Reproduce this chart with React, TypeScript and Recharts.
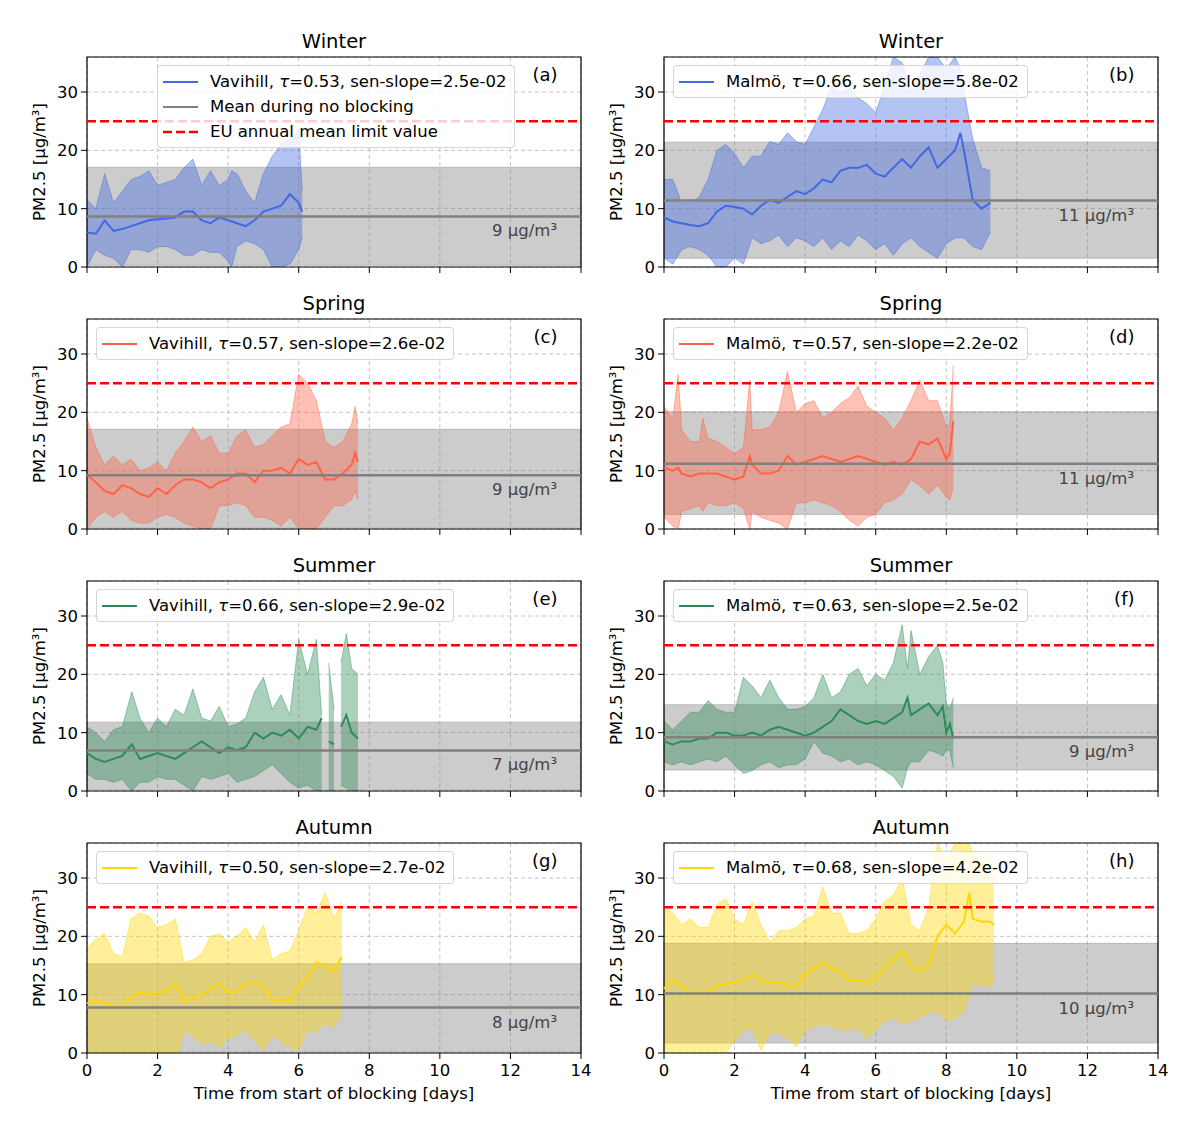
import React from "react";
import {
  Area,
  CartesianGrid,
  ComposedChart,
  Line,
  ReferenceArea,
  ReferenceLine,
  XAxis,
  YAxis,
} from "recharts";

const FONT = '"DejaVu Sans", Verdana, sans-serif';
const TXT = 16.5;

const X_TICKS = [0, 2, 4, 6, 8, 10, 12, 14];
const Y_TICKS = [0, 10, 20, 30];
const EU_LIMIT = 25;

const COLORS: Record<string, string> = {
  Winter: "#4169e1",
  Spring: "#ff6347",
  Summer: "#2e8b57",
  Autumn: "#ffd700",
};

// (a) Vavihill, winter
const T_A = [0, 0.25, 0.5, 0.75, 1, 1.25, 1.5, 1.75, 2, 2.25, 2.5, 2.75, 3, 3.25, 3.5, 3.75, 4, 4.1, 4.25, 4.5, 4.75, 5, 5.25, 5.5, 5.75, 6, 6.1];
const MEAN_A = [5.9, 5.7, 8, 6.2, 6.5, 7, 7.5, 8, 8.2, 8.3, 8.5, 9.5, 9.5, 8, 7.5, 8.5, 8, 7.8, 7.5, 7, 8, 9.5, 10, 10.5, 12.5, 11, 9.5];
const HI_A = [11.5, 10, 16, 11, 13, 15, 15.5, 16.5, 14, 14.5, 15, 17, 18.5, 14, 16.5, 14, 15, 16.5, 16, 13, 11, 16, 19, 21, 22, 23.5, 13];
const LO_A = [0, 3, 2, 1.5, 0, 3, 3, 2.5, 3.5, 3.5, 3, 2, 2, 3, 2.5, 2.5, 1, 0, 3.5, 4.5, 4, 3, 0, 0, 0.5, 3, 5];
const NB_A = [0.3, 17.1, 8.66];

// (b) Malmö, winter
const T_B = [0, 0.25, 0.5, 0.75, 1, 1.25, 1.5, 1.75, 2, 2.25, 2.5, 2.75, 3, 3.25, 3.5, 3.75, 4, 4.25, 4.5, 4.75, 5, 5.25, 5.5, 5.75, 6, 6.25, 6.5, 6.75, 7, 7.25, 7.5, 7.75, 8, 8.25, 8.4, 8.5, 8.75, 9, 9.25];
const MEAN_B = [8.5, 7.8, 7.5, 7.2, 7, 7.5, 9.5, 10.5, 10.3, 10, 9, 10.5, 11.5, 11, 12, 13, 12.5, 13.5, 15, 14.5, 16.5, 17, 17, 17.5, 16, 15.5, 17, 18.5, 17, 19, 20.5, 17, 18.5, 20, 23, 20, 11.5, 10, 11];
const HI_B = [15, 15, 11, 11, 12, 15, 20, 21, 19.5, 17, 19, 19, 21.5, 21, 23, 21.5, 21, 24, 27, 31, 30, 30.5, 29, 28, 26.5, 31, 36, 35, 30, 33, 36, 36, 34, 36, 34, 30, 22, 17, 16.5];
const LO_B = [1.5, 0.5, 3, 3.5, 3, 2, 0, 0, 1.5, 0.5, 5, 4, 4.5, 5.5, 3.5, 5, 4.5, 3.5, 5, 3, 4.5, 3.5, 5.5, 4.5, 3, 4, 2, 4, 5, 3.5, 2.5, 1.5, 4, 5, 5, 5, 3.5, 3, 6];
const NB_B = [1.5, 21.4, 11.4];

// (c) Vavihill, spring
const T_C = [0, 0.25, 0.5, 0.75, 1, 1.25, 1.5, 1.75, 2, 2.25, 2.5, 2.75, 3, 3.25, 3.5, 3.75, 4, 4.25, 4.5, 4.75, 5, 5.25, 5.5, 5.75, 6, 6.25, 6.5, 6.75, 7, 7.25, 7.5, 7.6, 7.68];
const MEAN_C = [9.3, 8, 6.5, 6, 7.5, 7, 6, 5.5, 7, 6, 7.5, 8.5, 8.5, 8, 7, 8, 8.5, 9.5, 9.5, 8, 10, 10, 10.5, 9.5, 12, 11, 11.5, 8.5, 8.5, 9.5, 11, 13, 11.5];
const HI_C = [19, 14, 11, 12.5, 11, 12, 10, 10.5, 11.5, 10, 13, 15, 17.5, 15, 16, 13, 13, 16, 17, 14, 14.5, 16, 17.5, 18, 26.5, 25, 22, 15, 14, 15, 18, 21, 18];
const LO_C = [0, 2, 3, 2, 3, 1.5, 1, 1, 2, 2.5, 2, 1, 0.5, 0, 0, 4, 4, 4.5, 4, 2, 2, 1.5, 0.5, 2, 0, 0, 0, 2, 4, 4, 5, 6.5, 5];
const NB_C = [0.2, 17.1, 9.2];

// (d) Malmö, spring
const T_D = [0, 0.25, 0.4, 0.5, 0.75, 1, 1.1, 1.25, 1.5, 1.75, 2, 2.25, 2.43, 2.5, 2.75, 3, 3.25, 3.5, 3.75, 4, 4.25, 4.5, 4.75, 5, 5.25, 5.5, 5.75, 6, 6.25, 6.5, 6.75, 7, 7.25, 7.5, 7.75, 8, 8.1, 8.2];
const MEAN_D = [10.5, 10, 10.5, 9.5, 9, 9.5, 9.5, 9.5, 9.5, 9, 8.5, 9, 12.5, 11, 9.5, 9.5, 10, 12.5, 11, 11.5, 12, 12.5, 12, 11.5, 12, 12.5, 12, 11.5, 11, 11.5, 11, 12, 15, 14.5, 15.5, 12, 13, 18.5];
const HI_D = [21, 19, 26.5, 17, 15, 15, 19, 15.5, 15, 14, 13, 14, 25.5, 17, 17, 17.5, 20, 27, 20, 21.5, 22, 19, 20, 21.5, 22.5, 24.5, 21, 20, 19, 17, 19, 22, 25.5, 22, 22, 17.5, 18, 28];
const LO_D = [2, 0.5, 0, 3, 3.5, 4, 3, 4.5, 4, 4, 4.5, 3.5, 0, 3, 2, 1.5, 1, 0, 4.5, 4.5, 5, 4.5, 4, 3, 1.5, 0.5, 2, 2.5, 4.5, 5, 6, 8.5, 7.5, 6, 7.5, 5.5, 5, 7];
const NB_D = [2.5, 20.1, 11.2];

// (e) Vavihill, summer (gaps = missing hours)
const T_E = [0, 0.25, 0.5, 0.75, 1, 1.27, 1.5, 1.75, 2, 2.25, 2.5, 2.75, 3, 3.25, 3.5, 3.75, 4, 4.25, 4.5, 4.75, 5, 5.25, 5.5, 5.75, 6, 6.25, 6.5, 6.65, 6.75, 6.85, 7, 7.1, 7.2, 7.35, 7.5, 7.68];
const MEAN_E = [6.5, 5.5, 5, 5.5, 6, 8, 5.5, 6, 6.5, 6, 5.5, 6.5, 7.5, 8.5, 7.5, 6.5, 7.5, 7, 7.5, 10, 9, 10, 9.5, 10.5, 9, 11, 10.5, 12.5, null, 8.5, 8, null, 11, 13, 10, 9];
const HI_E = [11, 10, 8.5, 10.5, 11, 17, 12.5, 10, 12.5, 11, 14, 13, 17.5, 12.5, 12, 14.5, 11, 11.5, 12.5, 17, 19.5, 14, 16.5, 13, 26, 20, 26, 13, null, 22, 14, null, 22, 27, 21, 20];
const LO_E = [3, 2, 2, 1.5, 2, 0, 1.5, 1.5, 2.5, 2, 2, 1, 0, 2.5, 2, 2.5, 3, 1.5, 2, 2.5, 3.5, 4.5, 3, 1.5, 0.5, 1, 0, 0, null, 0, 0, null, 1, 0.5, 0, 0];
const NB_E = [0.2, 11.8, 6.95];

// (f) Malmö, summer
const T_F = [0, 0.25, 0.5, 0.75, 1, 1.25, 1.5, 1.75, 2, 2.25, 2.5, 2.75, 3, 3.25, 3.5, 3.75, 4, 4.25, 4.5, 4.75, 5, 5.25, 5.5, 5.75, 6, 6.25, 6.5, 6.75, 6.9, 7, 7.25, 7.5, 7.75, 7.9, 8, 8.1, 8.2];
const MEAN_F = [8.5, 8, 8.5, 8.5, 9, 9, 10, 10, 9.5, 9.5, 10, 9.5, 10.5, 11, 10.5, 10, 9.5, 10, 11, 12, 14, 13, 12, 11.5, 12, 11.5, 12.5, 13.5, 16, 13, 14, 15, 13, 14.5, 10, 11.5, 9];
const HI_F = [12, 10.5, 12, 13.5, 13.5, 15.5, 14, 13.5, 13.5, 19.5, 18, 16, 19, 16, 14, 14, 14.5, 16, 20, 16, 17, 20, 21, 18, 20, 19, 22, 28.5, 21, 27.5, 20, 23, 25, 22, 15, 14, 16];
const LO_F = [5, 4.5, 5, 4.5, 5, 5.5, 5, 6, 4.5, 3, 3.5, 4.5, 5, 4, 4.5, 4.5, 5.5, 8.5, 6.5, 6, 5, 5.5, 4.5, 5, 4.5, 3.5, 2.5, 0.5, 4, 5, 5, 7, 6.5, 6, 7, 7, 4];
const NB_F = [3.6, 14.8, 9.2];

// (g) Vavihill, autumn
const T_G = [0, 0.25, 0.5, 0.75, 1, 1.25, 1.5, 1.75, 2, 2.25, 2.5, 2.6, 2.75, 3, 3.25, 3.5, 3.75, 4, 4.25, 4.5, 4.75, 5, 5.25, 5.5, 5.75, 6, 6.25, 6.5, 6.75, 7, 7.22];
const MEAN_G = [8.5, 9, 8.5, 8, 8, 9.5, 10.5, 10, 10.5, 10.5, 12, 11, 9, 9.5, 10, 11, 12, 10.5, 10.5, 12, 12, 11.5, 9, 9, 9, 11.5, 13, 15.5, 15, 14, 16.5];
const HI_G = [18, 19.5, 20.5, 17, 16.5, 23, 24, 23.5, 21.5, 22, 23, 20, 15.5, 16, 17, 20, 20.5, 19, 20, 21.5, 19, 22, 16, 17, 17.5, 21, 25, 24, 27.5, 23, 26];
const LO_G = [0, 0, 0, 0, 0, 0, 0, 0, 0, 0, 0, 0, 4, 3, 1.5, 2, 1, 2.5, 3, 4, 2, 0.5, 3, 2, 1, 0.5, 4, 3.5, 5, 4.5, 7];
const NB_G = [0.2, 15.3, 7.8];

// (h) Malmö, autumn
const T_H = [0, 0.25, 0.5, 0.75, 1, 1.25, 1.5, 1.75, 2, 2.25, 2.5, 2.75, 3, 3.25, 3.5, 3.75, 4, 4.25, 4.5, 4.75, 5, 5.25, 5.5, 5.75, 6, 6.25, 6.5, 6.75, 7, 7.25, 7.5, 7.75, 8, 8.25, 8.5, 8.65, 8.75, 9, 9.25, 9.35];
const MEAN_H = [11, 12.5, 11.5, 10, 10.5, 10.5, 11.5, 12, 12, 12.5, 13.5, 12.5, 12, 12, 11.5, 11.5, 13.5, 14.5, 15.5, 14.5, 14, 12.5, 12.5, 12, 13, 14.5, 16, 17.5, 15, 14, 15, 20, 22, 20.5, 22.5, 27.5, 23, 22.5, 22.5, 22];
const HI_H = [25, 24, 22, 23, 21.5, 21.5, 25.5, 26.5, 23, 22, 26, 22, 19, 21, 21, 21.5, 23, 23.5, 28.5, 24, 24, 20.5, 20.5, 21, 23, 26, 27, 30, 22, 21, 25, 36, 33, 36, 36, 36, 34, 33, 34, 29];
const LO_H = [0, 0, 0, 0, 0, 0, 0, 0, 2, 4, 4, 0.5, 3.5, 3.5, 2.5, 1, 4, 4.5, 5, 4.5, 4, 4, 4, 2.5, 4, 5.5, 6, 5, 5.5, 6, 7, 7, 5.5, 6, 7, 10, 12, 11.5, 11.5, 12];
const NB_H = [1.7, 18.8, 10.2];

// layout (pixels)
const COL_X = [87, 664];
const ROW_Y = [57, 319, 581, 843];
const PLOT_W = 494;
const PLOT_H = 210;
const Y_AXIS_W = 60;

type Panel = {
  id: string;
  season: string;
  station: string;
  tau: string;
  slope: string;
  t: number[];
  mean: (number | null)[];
  hi: (number | null)[];
  lo: (number | null)[];
  nb: number[];
  nbText: string;
  col: number;
  row: number;
  legendX: number;
  full?: boolean;
};

const PANELS: Panel[] = [
  { id: "a", season: "Winter", station: "Vavihill", tau: "0.53", slope: "2.5e-02", t: T_A, mean: MEAN_A, hi: HI_A, lo: LO_A, nb: NB_A, nbText: "9 µg/m³", col: 0, row: 0, legendX: 70, full: true },
  { id: "b", season: "Winter", station: "Malmö", tau: "0.66", slope: "5.8e-02", t: T_B, mean: MEAN_B, hi: HI_B, lo: LO_B, nb: NB_B, nbText: "11 µg/m³", col: 1, row: 0, legendX: 9 },
  { id: "c", season: "Spring", station: "Vavihill", tau: "0.57", slope: "2.6e-02", t: T_C, mean: MEAN_C, hi: HI_C, lo: LO_C, nb: NB_C, nbText: "9 µg/m³", col: 0, row: 1, legendX: 9 },
  { id: "d", season: "Spring", station: "Malmö", tau: "0.57", slope: "2.2e-02", t: T_D, mean: MEAN_D, hi: HI_D, lo: LO_D, nb: NB_D, nbText: "11 µg/m³", col: 1, row: 1, legendX: 9 },
  { id: "e", season: "Summer", station: "Vavihill", tau: "0.66", slope: "2.9e-02", t: T_E, mean: MEAN_E, hi: HI_E, lo: LO_E, nb: NB_E, nbText: "7 µg/m³", col: 0, row: 2, legendX: 9 },
  { id: "f", season: "Summer", station: "Malmö", tau: "0.63", slope: "2.5e-02", t: T_F, mean: MEAN_F, hi: HI_F, lo: LO_F, nb: NB_F, nbText: "9 µg/m³", col: 1, row: 2, legendX: 9 },
  { id: "g", season: "Autumn", station: "Vavihill", tau: "0.50", slope: "2.7e-02", t: T_G, mean: MEAN_G, hi: HI_G, lo: LO_G, nb: NB_G, nbText: "8 µg/m³", col: 0, row: 3, legendX: 9 },
  { id: "h", season: "Autumn", station: "Malmö", tau: "0.68", slope: "4.2e-02", t: T_H, mean: MEAN_H, hi: HI_H, lo: LO_H, nb: NB_H, nbText: "10 µg/m³", col: 1, row: 3, legendX: 9 },
];

const tickStyle = { fill: "#000", fontSize: TXT, fontFamily: FONT };

// text placed by its baseline, HTML overlay
function Txt({
  x,
  y,
  size = TXT,
  anchor = "middle",
  color = "#000",
  children,
}: {
  x: number;
  y: number;
  size?: number;
  anchor?: "start" | "middle" | "end";
  color?: string;
  children: React.ReactNode;
}) {
  const shift = anchor === "middle" ? "-50%" : anchor === "end" ? "-100%" : "0";
  return (
    <div
      style={{
        position: "absolute",
        left: x,
        top: y - 0.846 * size,
        fontSize: size,
        lineHeight: 1,
        color,
        whiteSpace: "nowrap",
        transform: `translateX(${shift})`,
      }}
    >
      {children}
    </div>
  );
}

type LegendItem = { color: string; dashed?: boolean; label: React.ReactNode };

function LegendBox({ left, top, items }: { left: number; top: number; items: LegendItem[] }) {
  return (
    <div
      style={{
        position: "absolute",
        left,
        top,
        padding: "3px 8px 3px 5px",
        background: "rgba(255,255,255,0.8)",
        border: "1px solid rgba(204,204,204,0.8)",
        borderRadius: 4,
        fontSize: TXT,
        whiteSpace: "nowrap",
      }}
    >
      {items.map((it, i) => (
        <div key={i} style={{ display: "flex", alignItems: "center", height: 25 }}>
          <svg width={35} height={10} style={{ marginRight: 12, flex: "none" }}>
            <line
              x1={0}
              x2={35}
              y1={5}
              y2={5}
              stroke={it.color}
              strokeWidth={it.dashed ? 2.5 : 2.2}
              strokeDasharray={it.dashed ? "9 4" : undefined}
            />
          </svg>
          <span>{it.label}</span>
        </div>
      ))}
    </div>
  );
}

function PanelChart({ p }: { p: Panel }) {
  const left = COL_X[p.col];
  const top = ROW_Y[p.row];
  const bottomRow = p.row === 3;
  const xh = bottomRow ? 62 : 14;
  const color = COLORS[p.season];
  const data = p.t.map((t, i) => ({
    t,
    band: p.lo[i] == null || p.hi[i] == null ? null : [p.lo[i], p.hi[i]],
    mean: p.mean[i],
  }));

  const nbLabel = (props: any) => {
    const vb = props.viewBox || {};
    return (
      <text
        x={(vb.x ?? 0) + (vb.width ?? 0) - 24}
        y={(vb.y ?? 0) + 20}
        textAnchor="end"
        fontSize={TXT}
        fontFamily={FONT}
        fill="#444"
      >
        {p.nbText}
      </text>
    );
  };

  return (
    <ComposedChart
      width={Y_AXIS_W + PLOT_W + 12}
      height={10 + PLOT_H + xh}
      data={data}
      margin={{ top: 10, right: 12, bottom: 0, left: 0 }}
      style={{ position: "absolute", left: left - Y_AXIS_W, top: top - 10 }}
    >
      <CartesianGrid stroke="#c4c4c4" strokeDasharray="4 3" />
      <XAxis
        dataKey="t"
        type="number"
        domain={[0, 14]}
        ticks={X_TICKS}
        interval={0}
        height={xh}
        stroke="#000"
        axisLine={false}
        tickSize={6}
        tickMargin={5}
        tick={tickStyle}
        tickFormatter={bottomRow ? (v: number) => String(v) : () => ""}
      />
      <YAxis
        type="number"
        domain={[0, 36]}
        ticks={Y_TICKS}
        interval={0}
        width={Y_AXIS_W}
        stroke="#000"
        axisLine={false}
        tickSize={6}
        tickMargin={3}
        tick={tickStyle}
        allowDataOverflow
      />
      <ReferenceArea
        x1={0}
        x2={14}
        y1={p.nb[0]}
        y2={p.nb[1]}
        fill="#808080"
        fillOpacity={0.4}
        stroke="#808080"
        strokeOpacity={0.4}
      />
      <Area
        dataKey="band"
        type="linear"
        stroke={color}
        strokeOpacity={0.45}
        strokeWidth={1}
        fill={color}
        fillOpacity={0.4}
        dot={false}
        activeDot={false}
        isAnimationActive={false}
      />
      <Line
        dataKey="mean"
        type="linear"
        stroke={color}
        strokeWidth={2}
        dot={false}
        activeDot={false}
        isAnimationActive={false}
      />
      <ReferenceLine y={p.nb[2]} stroke="#808080" strokeWidth={2.5} label={nbLabel} />
      <ReferenceLine y={EU_LIMIT} stroke="#ff0000" strokeWidth={2.5} strokeDasharray="9 4" />
      <ReferenceArea x1={0} x2={14} y1={0} y2={36} fill="none" stroke="#000" strokeWidth={1.2} />
    </ComposedChart>
  );
}

function PanelOverlay({ p }: { p: Panel }) {
  const left = COL_X[p.col];
  const top = ROW_Y[p.row];
  const cx = left + PLOT_W / 2;
  const color = COLORS[p.season];
  const items: LegendItem[] = [
    {
      color,
      label: (
        <>
          {p.station}, <span style={{ fontStyle: "italic" }}>τ</span>={p.tau}, sen-slope={p.slope}
        </>
      ),
    },
  ];
  if (p.full) {
    items.push({ color: "#808080", label: "Mean during no blocking" });
    items.push({ color: "#ff0000", dashed: true, label: "EU annual mean limit value" });
  }
  return (
    <>
      <Txt x={cx} y={top - 8.5} size={19.5}>
        {p.season}
      </Txt>
      <Txt x={left + PLOT_W - 23.5} y={top + 24} size={18} anchor="end">
        ({p.id})
      </Txt>
      <div
        style={{
          position: "absolute",
          left: left - 47,
          top: top + PLOT_H / 2,
          fontSize: TXT,
          lineHeight: 1,
          whiteSpace: "nowrap",
          transform: "translate(-50%, -50%) rotate(-90deg)",
        }}
      >
        PM2.5 [µg/m³]
      </div>
      {p.row === 3 && (
        <Txt x={cx} y={top + PLOT_H + 47}>
          Time from start of blocking [days]
        </Txt>
      )}
      <LegendBox left={left + p.legendX} top={top + 8} items={items} />
    </>
  );
}

export default function App() {
  return (
    <div
      style={{
        position: "absolute",
        left: 0,
        top: 0,
        width: 1200,
        height: 1138,
        background: "#fff",
        fontFamily: FONT,
        color: "#000",
        overflow: "hidden",
      }}
    >
      {PANELS.map((p) => (
        <PanelChart key={p.id} p={p} />
      ))}
      {PANELS.map((p) => (
        <PanelOverlay key={p.id} p={p} />
      ))}
    </div>
  );
}
